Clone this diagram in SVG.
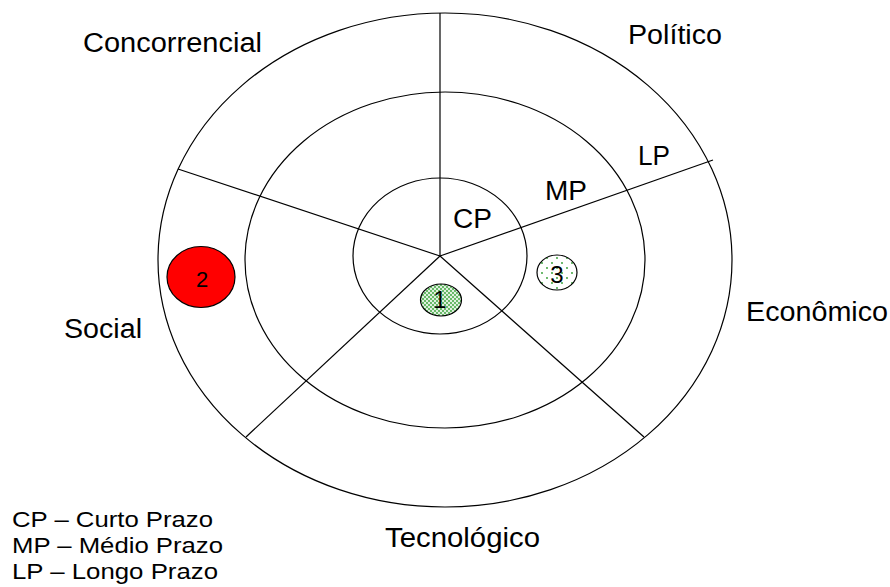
<svg xmlns="http://www.w3.org/2000/svg" width="890" height="587" viewBox="0 0 890 587">
<style>
.ring{fill:none;stroke:#000;stroke-width:1.2}
.spoke{stroke:#000;stroke-width:1.2;fill:none}
.lbl{font-family:"Liberation Sans",Arial,sans-serif;font-size:27px;fill:#000}
.leg{font-family:"Liberation Sans",Arial,sans-serif;font-size:22px;fill:#000}
.num{font-family:"Liberation Sans",Arial,sans-serif;fill:#000;text-anchor:middle}
</style>
<defs>
<pattern id="dots1" width="4" height="4" patternUnits="userSpaceOnUse">
<rect width="4" height="4" fill="#dff0df"/>
<circle cx="1" cy="1" r="0.9" fill="#2f9f2f"/>
<circle cx="3" cy="3" r="0.9" fill="#2f9f2f"/>
</pattern>
<pattern id="dots3" width="10" height="10" patternUnits="userSpaceOnUse">
<rect width="10" height="10" fill="#fff"/>
<circle cx="2" cy="3" r="0.9" fill="#2a9a2a"/>
<circle cx="7" cy="8" r="0.9" fill="#2a9a2a"/>
</pattern>
</defs>
<rect width="890" height="587" fill="#fff"/>
<g id="rings">
<ellipse id="outer" class="ring" cx="445" cy="260" rx="287" ry="247"/>
<ellipse id="middle" class="ring" cx="445" cy="260" rx="200" ry="168"/>
<ellipse id="inner" class="ring" cx="440" cy="256" rx="87" ry="78"/>
</g>
<g id="connectors">
<line class="spoke" x1="440" y1="256" x2="440" y2="13"/>
<line class="spoke" x1="440" y1="256" x2="713" y2="160"/>
<line class="spoke" x1="440" y1="256" x2="178" y2="169"/>
<line class="spoke" x1="440" y1="256" x2="246" y2="437"/>
<line class="spoke" x1="440" y1="256" x2="644" y2="437"/>
</g>
<g id="labels">
<text class="lbl" x="83" y="52" textLength="179" lengthAdjust="spacingAndGlyphs">Concorrencial</text>
<text class="lbl" x="628" y="44" textLength="94" lengthAdjust="spacingAndGlyphs">Político</text>
<text class="lbl" x="746" y="321" textLength="142" lengthAdjust="spacingAndGlyphs">Econômico</text>
<text class="lbl" x="64" y="338" textLength="78" lengthAdjust="spacingAndGlyphs">Social</text>
<text class="lbl" x="385" y="547" textLength="155" lengthAdjust="spacingAndGlyphs">Tecnológico</text>
<text class="lbl" x="638" y="165" textLength="32" lengthAdjust="spacingAndGlyphs">LP</text>
<text class="lbl" x="545" y="200" textLength="42" lengthAdjust="spacingAndGlyphs">MP</text>
<text class="lbl" x="453" y="228" textLength="39" lengthAdjust="spacingAndGlyphs">CP</text>
</g>
<g id="node2">
<ellipse cx="201" cy="277" rx="34" ry="30.5" fill="#ff0000" stroke="#000" stroke-width="1.2"/>
<text class="num" x="202" y="287" font-size="22">2</text>
</g>
<g id="node1">
<ellipse cx="441" cy="300" rx="20.5" ry="16" fill="url(#dots1)" stroke="#000" stroke-width="1.2"/>
<text class="num" x="440" y="308" font-size="24">1</text>
</g>
<g id="node3">
<ellipse cx="557" cy="272.5" rx="20" ry="17.5" fill="url(#dots3)" stroke="#000" stroke-width="1.2"/>
<text class="num" x="557" y="283" font-size="24">3</text>
</g>
<g id="legend">
<text class="leg" x="12" y="527" textLength="201" lengthAdjust="spacingAndGlyphs">CP – Curto Prazo</text>
<text class="leg" x="12" y="553" textLength="211" lengthAdjust="spacingAndGlyphs">MP – Médio Prazo</text>
<text class="leg" x="12" y="579" textLength="206" lengthAdjust="spacingAndGlyphs">LP – Longo Prazo</text>
</g>
</svg>
